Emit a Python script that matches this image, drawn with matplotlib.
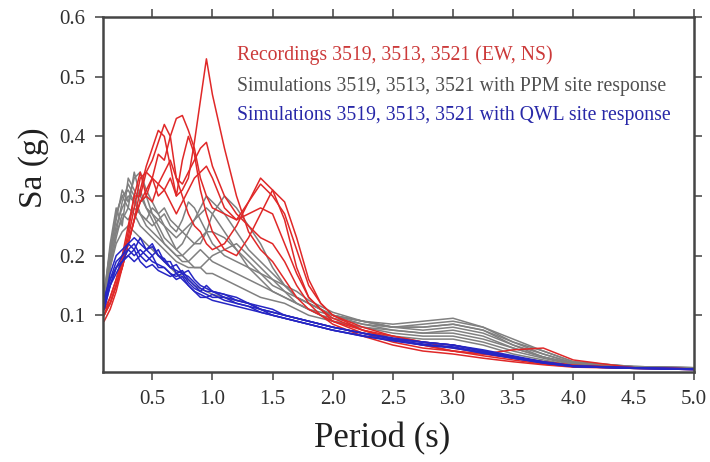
import numpy as np
import matplotlib.pyplot as plt

plt.rcParams['font.family'] = ['Liberation Serif', 'DejaVu Serif']

# periods (s)
period = [0.1, 0.15, 0.2, 0.25, 0.3, 0.35, 0.4, 0.45, 0.5, 0.55, 0.6, 0.65, 0.7, 0.75,
          0.8, 0.85, 0.9, 0.95, 1.0, 1.1, 1.2, 1.3, 1.4, 1.5, 1.6, 1.7, 1.8, 1.9, 2.0,
          2.25, 2.5, 2.75, 3.0, 3.25, 3.5, 3.75, 4.0, 4.5, 5.0]

# recordings (EW, NS) at 3519, 3513, 3521
rec_1 = [0.10, 0.12, 0.15, 0.18, 0.22, 0.26, 0.29, 0.31, 0.33, 0.30, 0.31, 0.33, 0.30, 0.31,
         0.33, 0.39, 0.46, 0.53, 0.47, 0.38, 0.30, 0.24, 0.21, 0.19, 0.16, 0.13, 0.11, 0.10, 0.09,
         0.075, 0.065, 0.055, 0.05, 0.04, 0.03, 0.022, 0.016, 0.012, 0.01]
rec_2 = [0.10, 0.12, 0.15, 0.19, 0.24, 0.30, 0.30, 0.34, 0.36, 0.39, 0.42, 0.40, 0.33, 0.30,
         0.27, 0.25, 0.24, 0.22, 0.21, 0.22, 0.25, 0.29, 0.33, 0.31, 0.26, 0.18, 0.13, 0.11, 0.095,
         0.075, 0.06, 0.05, 0.04, 0.035, 0.028, 0.02, 0.015, 0.012, 0.01]
rec_3 = [0.11, 0.13, 0.16, 0.20, 0.25, 0.30, 0.34, 0.30, 0.33, 0.37, 0.36, 0.40, 0.43, 0.435,
         0.41, 0.38, 0.33, 0.30, 0.28, 0.27, 0.26, 0.27, 0.28, 0.27, 0.22, 0.17, 0.13, 0.11, 0.09,
         0.07, 0.055, 0.045, 0.04, 0.032, 0.025, 0.018, 0.014, 0.011, 0.009]
rec_4 = [0.09, 0.11, 0.14, 0.18, 0.22, 0.26, 0.31, 0.35, 0.38, 0.41, 0.40, 0.35, 0.30, 0.36,
         0.40, 0.37, 0.31, 0.27, 0.24, 0.21, 0.20, 0.23, 0.27, 0.31, 0.29, 0.23, 0.16, 0.12, 0.10,
         0.08, 0.065, 0.055, 0.045, 0.037, 0.03, 0.022, 0.016, 0.012, 0.01]
rec_5 = [0.10, 0.13, 0.16, 0.19, 0.23, 0.28, 0.33, 0.34, 0.33, 0.32, 0.34, 0.36, 0.33, 0.32,
         0.34, 0.36, 0.38, 0.39, 0.35, 0.30, 0.27, 0.25, 0.23, 0.22, 0.19, 0.15, 0.12, 0.10, 0.085,
         0.065, 0.05, 0.04, 0.035, 0.028, 0.022, 0.017, 0.013, 0.011, 0.009]
rec_6 = [0.11, 0.12, 0.15, 0.18, 0.22, 0.26, 0.29, 0.30, 0.29, 0.32, 0.31, 0.29, 0.27, 0.29,
         0.31, 0.33, 0.34, 0.35, 0.33, 0.28, 0.26, 0.29, 0.32, 0.30, 0.27, 0.21, 0.15, 0.12, 0.10,
         0.075, 0.06, 0.05, 0.04, 0.035, 0.042, 0.045, 0.025, 0.012, 0.01]

# simulations with PPM site response
ppm_1 = [0.12, 0.20, 0.27, 0.30, 0.28, 0.34, 0.30, 0.28, 0.27, 0.26, 0.25, 0.24, 0.23, 0.24,
         0.25, 0.26, 0.27, 0.28, 0.27, 0.24, 0.21, 0.18, 0.16, 0.14, 0.13, 0.12, 0.11, 0.105, 0.10,
         0.09, 0.085, 0.09, 0.095, 0.08, 0.055, 0.035, 0.02, 0.014, 0.012]
ppm_2 = [0.13, 0.22, 0.28, 0.25, 0.33, 0.31, 0.29, 0.30, 0.27, 0.25, 0.23, 0.22, 0.21, 0.22,
         0.24, 0.26, 0.28, 0.30, 0.29, 0.27, 0.24, 0.21, 0.19, 0.17, 0.15, 0.13, 0.12, 0.11, 0.10,
         0.09, 0.08, 0.08, 0.085, 0.075, 0.05, 0.03, 0.02, 0.014, 0.012]
ppm_3 = [0.12, 0.19, 0.24, 0.29, 0.32, 0.30, 0.27, 0.25, 0.24, 0.23, 0.22, 0.21, 0.20, 0.20,
         0.21, 0.22, 0.23, 0.24, 0.24, 0.23, 0.21, 0.19, 0.17, 0.15, 0.14, 0.12, 0.11, 0.10, 0.095,
         0.085, 0.08, 0.075, 0.08, 0.07, 0.05, 0.035, 0.02, 0.013, 0.011]
ppm_4 = [0.14, 0.21, 0.26, 0.31, 0.29, 0.33, 0.34, 0.31, 0.29, 0.27, 0.28, 0.26, 0.25, 0.24,
         0.23, 0.22, 0.22, 0.24, 0.27, 0.30, 0.28, 0.25, 0.22, 0.18, 0.15, 0.13, 0.12, 0.11, 0.10,
         0.09, 0.08, 0.085, 0.09, 0.08, 0.06, 0.04, 0.022, 0.014, 0.012]
ppm_5 = [0.13, 0.20, 0.25, 0.28, 0.30, 0.29, 0.31, 0.28, 0.26, 0.24, 0.22, 0.21, 0.20, 0.19,
         0.19, 0.20, 0.21, 0.20, 0.19, 0.18, 0.17, 0.16, 0.15, 0.14, 0.13, 0.12, 0.11, 0.10, 0.09,
         0.08, 0.075, 0.07, 0.07, 0.06, 0.045, 0.03, 0.018, 0.013, 0.011]
ppm_6 = [0.12, 0.18, 0.23, 0.27, 0.26, 0.28, 0.27, 0.26, 0.28, 0.27, 0.25, 0.23, 0.21, 0.20,
         0.19, 0.18, 0.18, 0.19, 0.20, 0.21, 0.22, 0.20, 0.18, 0.16, 0.14, 0.13, 0.12, 0.11, 0.10,
         0.085, 0.075, 0.07, 0.075, 0.065, 0.045, 0.03, 0.018, 0.013, 0.011]
ppm_7 = [0.13, 0.21, 0.27, 0.30, 0.31, 0.29, 0.27, 0.26, 0.25, 0.26, 0.27, 0.25, 0.24, 0.26,
         0.29, 0.28, 0.26, 0.24, 0.22, 0.20, 0.19, 0.18, 0.17, 0.16, 0.15, 0.14, 0.125, 0.115, 0.105,
         0.09, 0.08, 0.08, 0.085, 0.075, 0.055, 0.04, 0.022, 0.014, 0.012]
ppm_8 = [0.12, 0.19, 0.24, 0.26, 0.28, 0.27, 0.25, 0.24, 0.23, 0.22, 0.21, 0.20, 0.19, 0.185,
         0.18, 0.18, 0.18, 0.17, 0.17, 0.16, 0.15, 0.14, 0.13, 0.125, 0.12, 0.11, 0.10, 0.095, 0.09,
         0.08, 0.07, 0.065, 0.065, 0.055, 0.04, 0.028, 0.017, 0.012, 0.011]
ppm_9 = [0.12, 0.18, 0.22, 0.24, 0.25, 0.24, 0.23, 0.22, 0.21, 0.20, 0.19, 0.18, 0.17, 0.165,
         0.16, 0.15, 0.145, 0.14, 0.135, 0.13, 0.125, 0.12, 0.11, 0.105, 0.10, 0.095, 0.09, 0.085, 0.08,
         0.07, 0.065, 0.06, 0.06, 0.05, 0.035, 0.025, 0.016, 0.012, 0.01]

# simulations with QWL site response
qwl_1 = [0.12, 0.16, 0.19, 0.20, 0.22, 0.21, 0.23, 0.21, 0.20, 0.21, 0.19, 0.18, 0.185, 0.17,
         0.175, 0.16, 0.15, 0.145, 0.14, 0.13, 0.125, 0.12, 0.11, 0.105, 0.10, 0.095, 0.09, 0.085, 0.08,
         0.07, 0.06, 0.055, 0.05, 0.042, 0.032, 0.022, 0.015, 0.012, 0.01]
qwl_2 = [0.11, 0.15, 0.18, 0.20, 0.21, 0.22, 0.20, 0.21, 0.22, 0.20, 0.19, 0.19, 0.17, 0.175,
         0.16, 0.15, 0.14, 0.15, 0.14, 0.135, 0.13, 0.12, 0.115, 0.11, 0.10, 0.095, 0.09, 0.085, 0.08,
         0.07, 0.06, 0.055, 0.05, 0.04, 0.03, 0.022, 0.015, 0.012, 0.01]
qwl_3 = [0.12, 0.15, 0.17, 0.19, 0.20, 0.19, 0.20, 0.19, 0.20, 0.18, 0.18, 0.17, 0.165, 0.17,
         0.155, 0.145, 0.14, 0.135, 0.13, 0.13, 0.12, 0.115, 0.11, 0.10, 0.095, 0.09, 0.085, 0.08, 0.075,
         0.065, 0.058, 0.05, 0.047, 0.038, 0.03, 0.02, 0.014, 0.011, 0.009]
qwl_4 = [0.13, 0.16, 0.18, 0.19, 0.20, 0.21, 0.19, 0.18, 0.185, 0.175, 0.17, 0.165, 0.17, 0.16,
         0.15, 0.14, 0.13, 0.13, 0.125, 0.12, 0.115, 0.11, 0.105, 0.10, 0.095, 0.09, 0.085, 0.08, 0.075,
         0.065, 0.057, 0.05, 0.045, 0.037, 0.028, 0.02, 0.014, 0.011, 0.009]
qwl_5 = [0.12, 0.17, 0.20, 0.21, 0.22, 0.23, 0.22, 0.21, 0.215, 0.20, 0.195, 0.18, 0.175, 0.17,
         0.165, 0.155, 0.145, 0.14, 0.14, 0.135, 0.125, 0.12, 0.11, 0.105, 0.10, 0.095, 0.09, 0.085, 0.08,
         0.07, 0.062, 0.055, 0.05, 0.04, 0.03, 0.021, 0.015, 0.012, 0.01]
qwl_6 = [0.11, 0.15, 0.18, 0.19, 0.21, 0.20, 0.21, 0.20, 0.19, 0.185, 0.18, 0.17, 0.16, 0.165,
         0.15, 0.14, 0.135, 0.13, 0.135, 0.125, 0.12, 0.115, 0.105, 0.10, 0.095, 0.09, 0.085, 0.08, 0.075,
         0.066, 0.058, 0.052, 0.046, 0.036, 0.028, 0.02, 0.014, 0.011, 0.009]

recordings = [rec_1, rec_2, rec_3, rec_4, rec_5, rec_6]
sims_ppm = [ppm_1, ppm_2, ppm_3, ppm_4, ppm_5, ppm_6, ppm_7, ppm_8, ppm_9]
sims_qwl = [qwl_1, qwl_2, qwl_3, qwl_4, qwl_5, qwl_6]

red = "#e02828"
grey = "#808080"
blue = "#2626c4"

fig = plt.figure(figsize=(7.1, 4.62), dpi=100)
ax = fig.add_axes([0.145, 0.195, 0.832, 0.768])

for sa in sims_ppm:
    ax.plot(period, sa, color=grey, lw=1.1)
for sa in recordings:
    ax.plot(period, sa, color=red, lw=1.1)
for sa in sims_qwl:
    ax.plot(period, sa, color=blue, lw=1.1)

ax.set_xlim(0.09, 5.0)
ax.set_ylim(0.005, 0.6)
xt = np.arange(0.5, 5.01, 0.5)
ax.set_xticks(xt)
ax.set_xticklabels(["%.1f" % t for t in xt])
ax.set_yticks([0.1, 0.2, 0.3, 0.4, 0.5, 0.6])
ax.set_yticklabels(["0.1", "0.2", "0.3", "0.4", "0.5", "0.6"])
ax.tick_params(direction='out', length=6, width=1.2, color="#505050",
               labelsize=15, labelcolor="#303030", top=True, right=True, pad=7)
for s in ax.spines.values():
    s.set_color("#454545")
    s.set_linewidth(1.8)

ax.set_xlabel("Period (s)", fontsize=25, color="#202020")
ax.set_ylabel("Sa (g)", fontsize=24, color="#202020")
ax.xaxis.set_label_coords(0.472, -0.142)
ax.yaxis.set_label_coords(-0.092, 0.575)

ax.text(0.227, 0.893, "Recordings 3519, 3513, 3521 (EW, NS)", color="#cc3a3a",
        fontsize=14.2, transform=ax.transAxes, va='center')
ax.text(0.227, 0.803, "Simulations 3519, 3513, 3521 with PPM site response", color="#505050",
        fontsize=14.2, transform=ax.transAxes, va='center')
ax.text(0.227, 0.724, "Simulations 3519, 3513, 3521 with QWL site response", color="#2828a8",
        fontsize=14.2, transform=ax.transAxes, va='center')

fig.savefig("out.png", dpi=100)
